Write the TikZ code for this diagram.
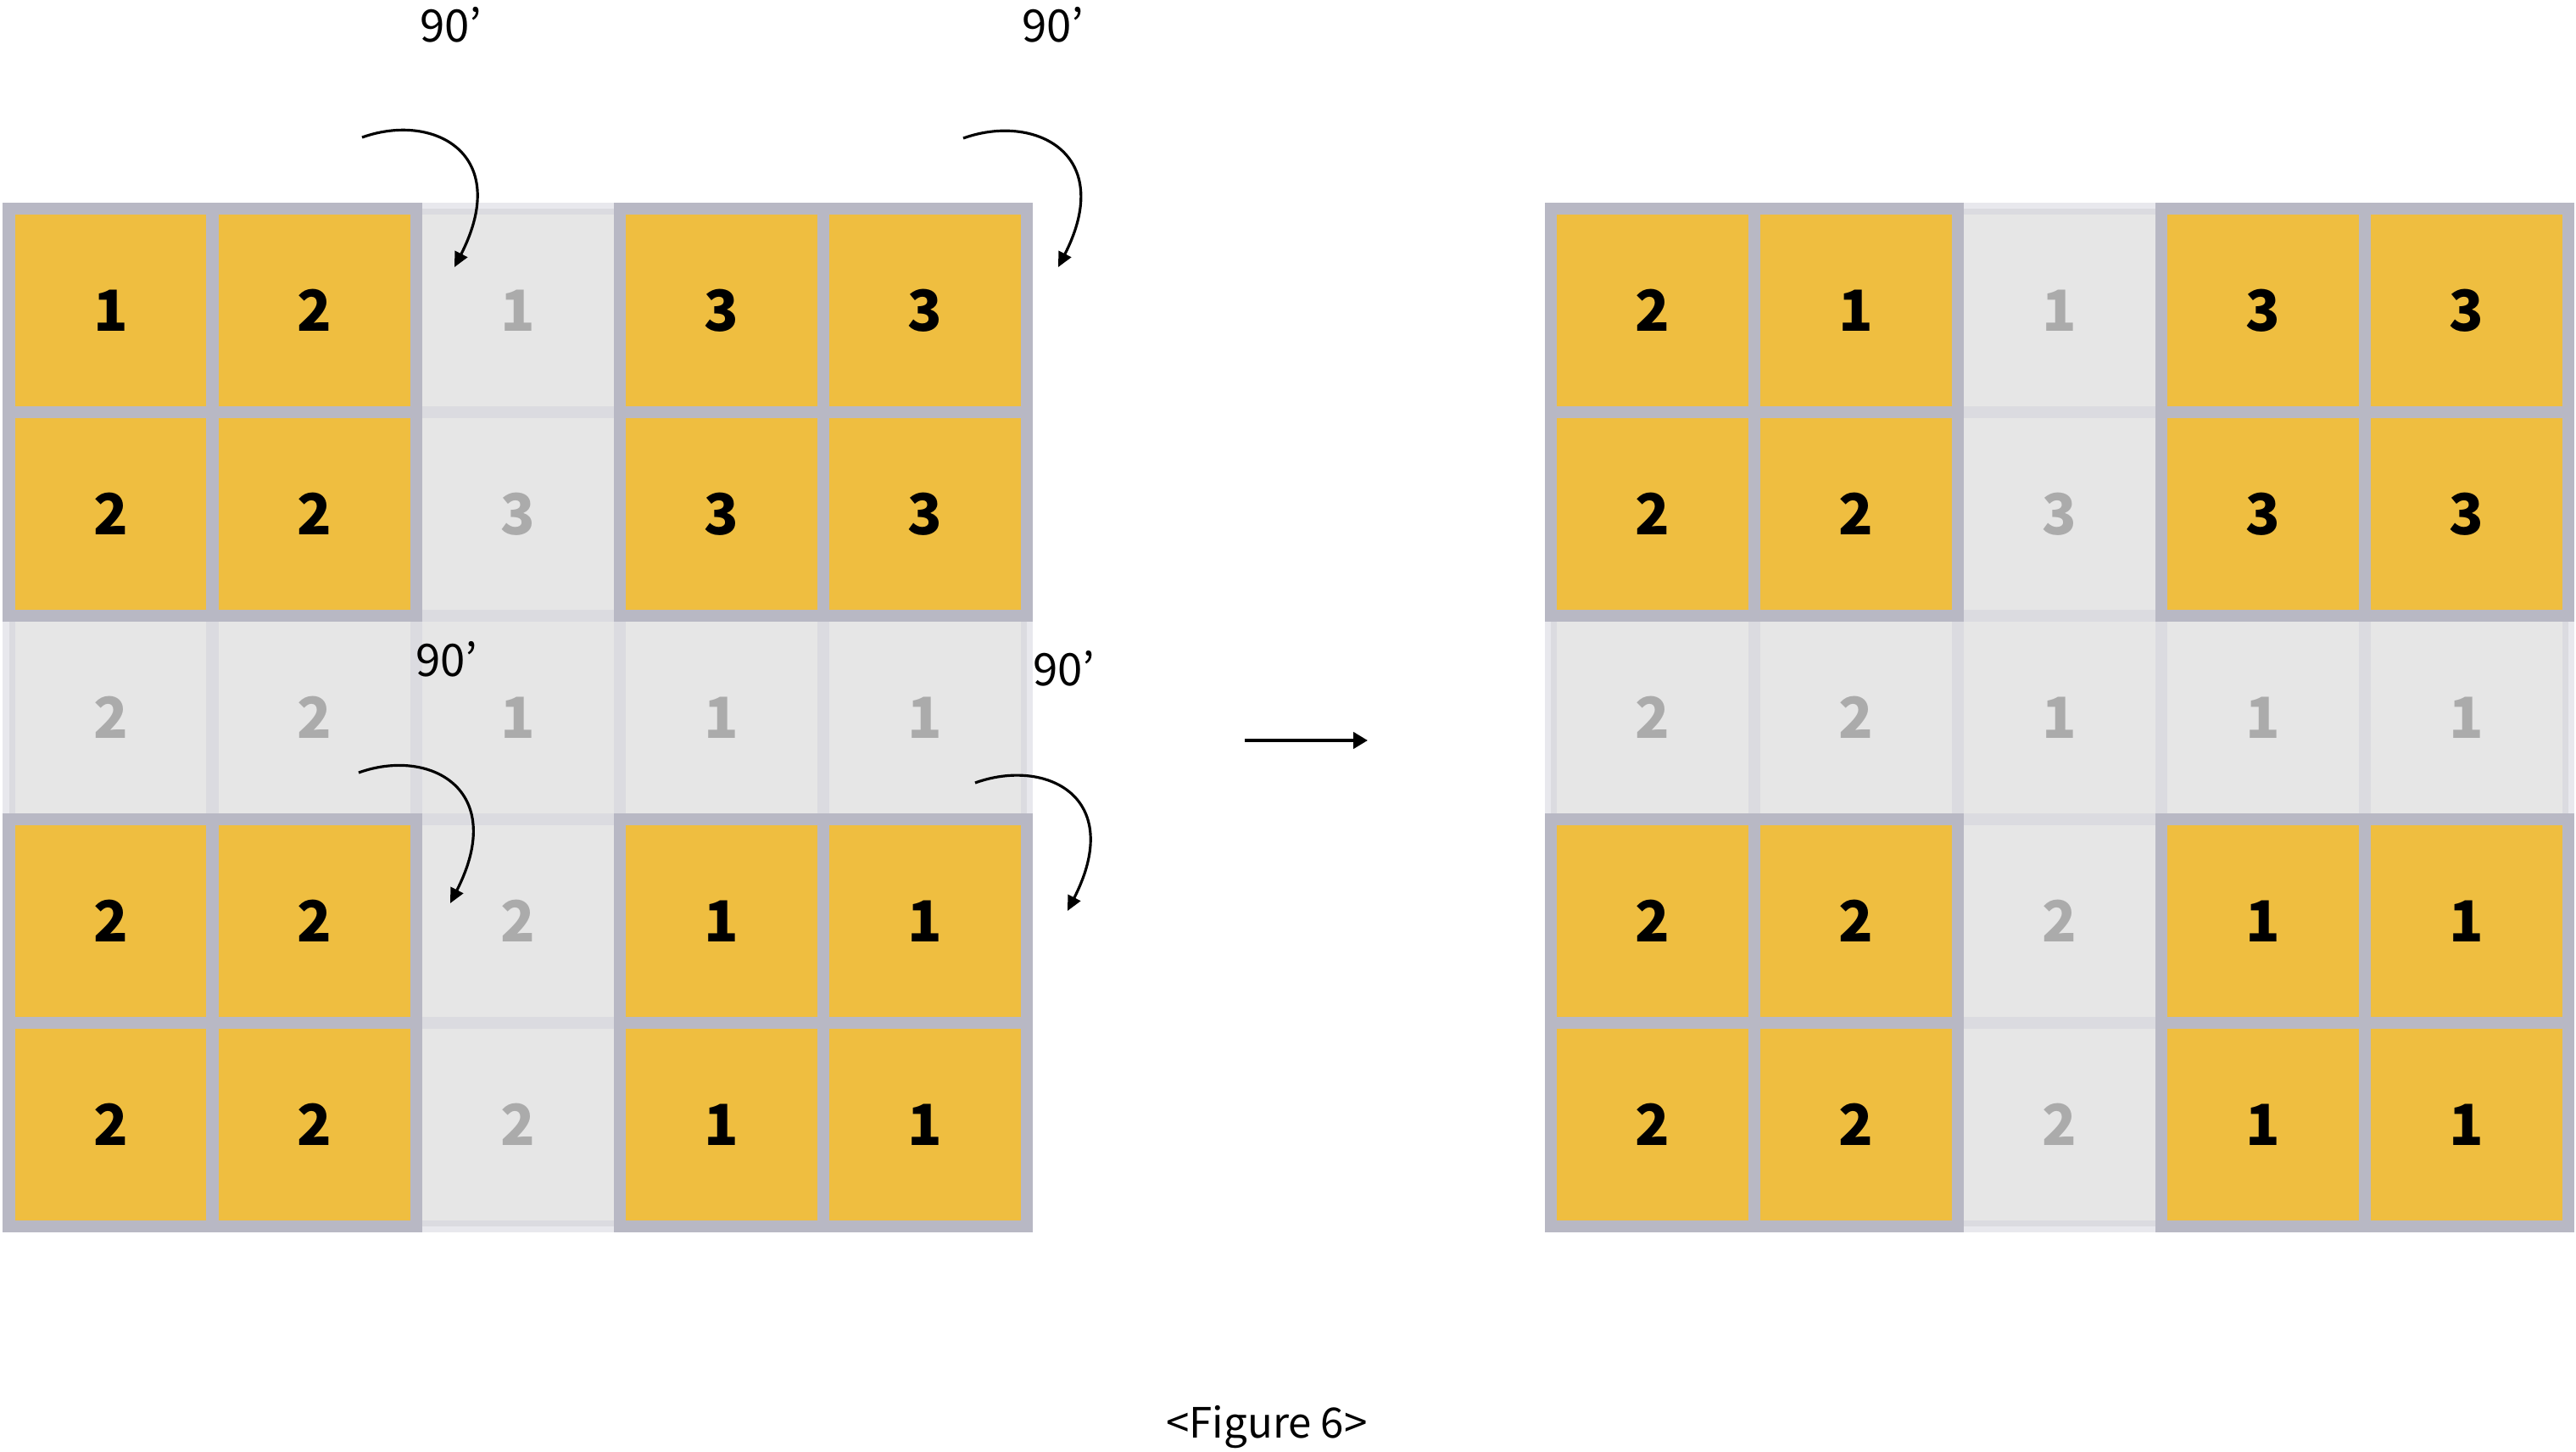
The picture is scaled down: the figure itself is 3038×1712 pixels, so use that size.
\documentclass[tikz,border=0pt]{standalone}
\usepackage{fontspec}
\setmainfont{Noto Sans CJK KR}
\usepackage{tikz}
\usetikzlibrary{arrows.meta}
\definecolor{goldx}{HTML}{EFBE40}
\definecolor{edgex}{HTML}{B8B8C4}
\definecolor{litex}{HTML}{E6E6E6}
\definecolor{seamx}{HTML}{D2D2DC}
\definecolor{dimx}{HTML}{ABABAB}
\tikzset{
  blockline/.style={draw=edgex,line width=0.14cm},
  seam/.style={draw=seamx,line width=0.14cm,opacity=0.5},
  num/.style={font=\fontsize{19}{21}\selectfont\bfseries,inner sep=0pt},
  ink/.style={text=black},
  faded/.style={text=dimx},
  twist/.style={-{Triangle[length=5pt,width=4.6pt]},line width=0.9pt},
  go/.style={-{Triangle[length=4.8pt,width=5.4pt]},line width=1.15pt},
  anglelbl/.style={font=\fontsize{15}{18}\selectfont,anchor=base,inner sep=0pt},
  caption/.style={font=\fontsize{14}{17}\selectfont,anchor=base,inner sep=0pt}
}
% #1 left edge, #2 name prefix, #3 rows of numbers
\newcommand{\cellgrid}[3]{%
  \fill[litex] (#1,246) rectangle ++(1200,1200);
  \draw[seam] (#1,246) rectangle ++(1200,1200)
    \foreach \i in {1,...,4} {(#1+240*\i,246) -- ++(0,1200) (#1,246+240*\i) -- ++(1200,0)};
  \foreach \bx in {0,720} \foreach \by in {0,720} {
    \fill[goldx] (#1+\bx,246+\by) rectangle ++(480,480);
    \draw[blockline] (#1+\bx,246+\by) rectangle ++(480,480)
      (#1+\bx+240,246+\by) -- ++(0,480)
      (#1+\bx,246+\by+240) -- ++(480,0);
  }
  \foreach \row [count=\r] in {#3} {
    \foreach \v [count=\c] in \row {
      \ifnum\r=3 \def\tone{faded}\else\ifnum\c=3 \def\tone{faded}\else\def\tone{ink}\fi\fi
      \node[num,\tone] (#2-\r-\c) at (#1+240*\c-120,246+240*\r-120) {\v};
    }
  }
}

\begin{document}
\begin{tikzpicture}[x=0.01cm,y=-0.01cm]
\useasboundingbox (0,0) rectangle (3038,1712);

% before and after
\cellgrid{10.5}{L}{{1,2,1,3,3},{2,2,3,3,3},{2,2,1,1,1},{2,2,2,1,1},{2,2,2,1,1}}
\cellgrid{1829}{R}{{2,1,1,3,3},{2,2,3,3,3},{2,2,1,1,1},{2,2,2,1,1},{2,2,2,1,1}}

% rotations
\foreach \n/\sx/\sy/\ex/\ey in {tl/427/162/536/315,tr/1136/163/1248/315,ml/423/911/531/1065,mr/1150/923/1259/1074} {
  \coordinate (\n-a) at (\sx,\sy);
  \coordinate (\n-b) at (\ex,\ey);
  \draw[twist] (\n-a) .. controls +(83,-30) and +(69,-135) .. (\n-b);
}
\node[anglelbl] (deg-tl) at (532,50) {90’};
\node[anglelbl] (deg-tr) at (1242,50) {90’};
\node[anglelbl] (deg-ml) at (527,797) {90’};
\node[anglelbl] (deg-mr) at (1255,808) {90’};

\coordinate (go-a) at (1468,873);
\coordinate (go-b) at (1613,873);
\draw[go] (go-a) -- (go-b);

\node[caption] (cap) at (1494,1695) {<Figure 6>};
\end{tikzpicture}
\end{document}
